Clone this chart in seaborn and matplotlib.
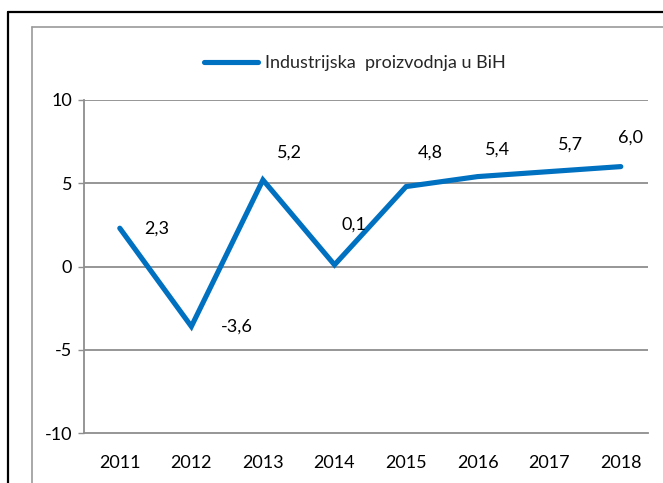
import numpy as np
import pandas as pd
import matplotlib
matplotlib.use("Agg")
import matplotlib.pyplot as plt
from matplotlib.lines import Line2D
import seaborn as sns

# data
years = ["2011", "2012", "2013", "2014", "2015", "2016", "2017", "2018"]
values = [2.3, -3.6, 5.2, 0.1, 4.8, 5.4, 5.7, 6.0]
value_labels = ["2,3", "-3,6", "5,2", "0,1", "4,8", "5,4", "5,7", "6,0"]
series_name = "Industrijska  proizvodnja u BiH"

# label offsets in pixels (dx, dy) from each point, like the excel placement
label_offsets = [(24, 0), (30, 0), (14, 27), (7, 40), (12, 34), (7, 27), (9, 27), (-3, 29)]

df = pd.DataFrame({"year": years, "value": values})

sns.set_style("white")
plt.rcParams["font.family"] = ["Lato", "DejaVu Sans"]
fs = 13

W, H = 663, 483
fig = plt.figure(figsize=(W / 100, H / 100), dpi=100)
ax = fig.add_axes([84 / W, 1 - 433 / H, (648 - 84) / W, (433 - 100) / H])

blue = "#0070C0"
grid_c = "#8E8E8E"

sns.lineplot(data=df, x="year", y="value", ax=ax, color=blue, linewidth=3.7,
             solid_capstyle="round", solid_joinstyle="miter", label=series_name,
             legend=False)

ax.set_ylim(-10, 10)
ax.set_xlim(-0.5, 7.38)
ax.set_yticks([-10, -5, 0, 5, 10])
ax.set_yticklabels(["-10", "-5", "0", "5", "10"])
ax.set_xlabel("")
ax.set_ylabel("")

for y in [-5, 0, 5, 10]:
    ax.axhline(y, color=grid_c, linewidth=1.3, zorder=0)

for s in ["top", "right"]:
    ax.spines[s].set_visible(False)
for s in ["left", "bottom"]:
    ax.spines[s].set_color(grid_c)
    ax.spines[s].set_linewidth(1.3)

ax.tick_params(axis="y", which="both", left=True, length=4.5, width=1.0, color=grid_c,
               pad=4, labelsize=fs, labelcolor="black")
ax.tick_params(axis="x", which="both", bottom=False, pad=12, labelsize=fs, labelcolor="black")

for i, (v, lab, off) in enumerate(zip(values, value_labels, label_offsets)):
    ax.annotate(lab, xy=(i, v), xytext=off, textcoords="offset pixels",
                ha="left", va="center", fontsize=fs, color="black")

# legend above the plot
handle = Line2D([], [], color=blue, linewidth=3.7, solid_capstyle="round")
fig.legend([handle], [series_name], loc="center", bbox_to_anchor=(355 / W, 1 - 63 / H),
           frameon=False, fontsize=fs, handlelength=3.0, handletextpad=0.4)

# outer black frame and inner gray chart border (run off the right/bottom edge)
fig.add_artist(Line2D([8 / W, 1.0], [1 - 12 / H, 1 - 12 / H], color="black", linewidth=1.6,
                      transform=fig.transFigure))
fig.add_artist(Line2D([8 / W, 8 / W], [1 - 12 / H, 0.0], color="black", linewidth=1.6,
                      transform=fig.transFigure))
fig.add_artist(Line2D([32 / W, 1.0], [1 - 27 / H, 1 - 27 / H], color="#9A9A9A", linewidth=1.2,
                      transform=fig.transFigure))
fig.add_artist(Line2D([32 / W, 32 / W], [1 - 27 / H, 0.0], color="#9A9A9A", linewidth=1.2,
                      transform=fig.transFigure))

fig.savefig("out.png", dpi=100)
